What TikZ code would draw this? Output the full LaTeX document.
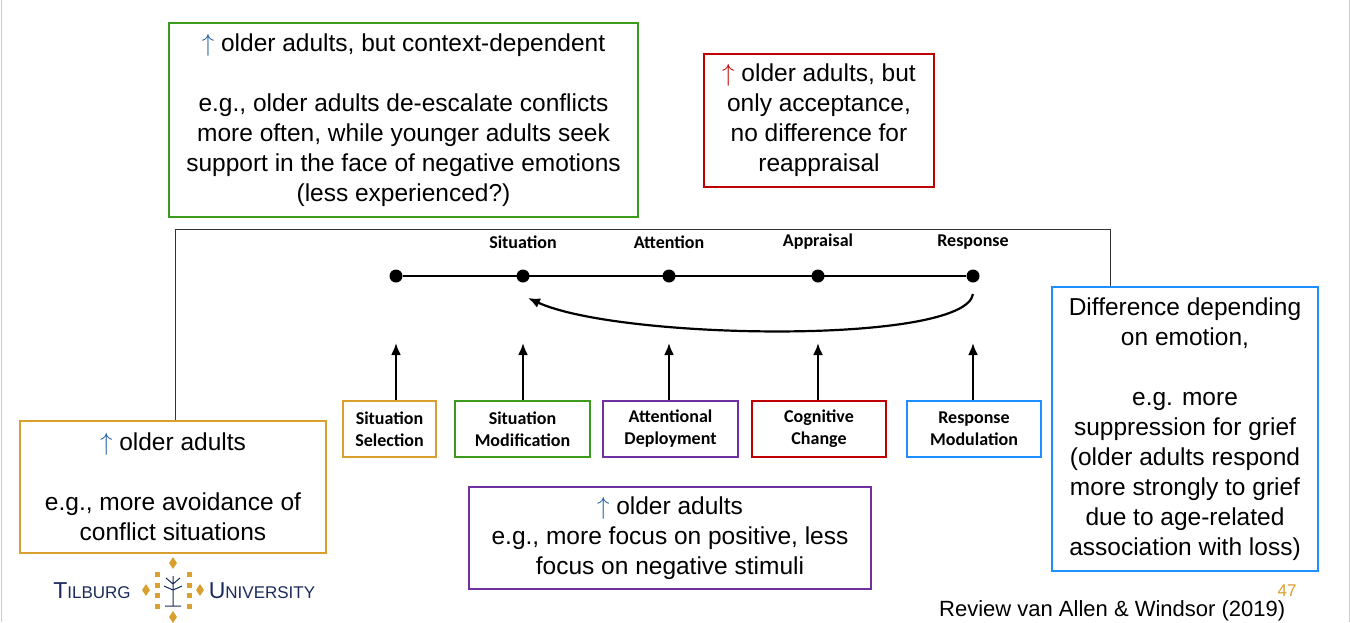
\documentclass[tikz,border=0pt]{standalone}
\usepackage{fontspec}
\setmainfont{Liberation Sans}
\newfontfamily\calib{Carlito}
\usetikzlibrary{positioning, shapes.geometric, arrows.meta}
\definecolor{okgreen}{HTML}{3C9A1E}
\definecolor{okred}{HTML}{C00000}
\definecolor{okpurple}{HTML}{7030A0}
\definecolor{okblue}{HTML}{1E8FFF}
\definecolor{okorange}{HTML}{D9A030}
\definecolor{arrowblue}{HTML}{1F5F9F}
\definecolor{tiunavy}{HTML}{1B2A5C}
\begin{document}
\begin{tikzpicture}[x=1pt,y=-1pt,
    note/.style={draw, line width=2.2pt, fill=white, align=center, inner sep=0pt, font=\fontsize{24.5}{30}\selectfont},
    stage/.style={draw, line width=2.2pt, fill=white, align=center, inner sep=0pt, font=\calib\bfseries\fontsize{18}{22}\selectfont},
    dot/.style={circle, fill=black, inner sep=0pt, minimum size=13pt},
    steplabel/.style={font=\calib\bfseries\fontsize{18}{18}\selectfont},
    uparrow/.style={-{Latex[length=12pt,width=10pt]}, line width=2.2pt}
]
    \useasboundingbox (0,0) rectangle (1350,622);
    \draw[black!20] (1,0) -- (1,622) (1349,0) -- (1349,622);

    % image frame
    \draw[black!80] (175,420) -- (175,229) -- (1110,229) -- (1110,287);

    % process line
    \foreach \name/\x in {sel/396, mod/523, att/669, app/818, res/973}
        \node[dot] (d\name) at (\x,276) {};
    \draw[line width=2.2pt] (dsel) -- (dres);
    \foreach \name/\txt in {mod/Situation, att/Attention, app/Appraisal, res/Response}
        \node[steplabel] at (d\name |- 0,242) {\txt};
    \coordinate (backstart) at (973,294);
    \coordinate (backend) at (528,298);
    \draw[uparrow] (backstart) .. controls (965,345) and (620,340) .. (backend);

    % strategy boxes
    \node[stage, draw=okorange, minimum width=93pt, minimum height=56pt] (bsel) at (389.5,429) {Situation\\Selection};
    \node[stage, draw=okgreen, minimum width=135pt, minimum height=56pt] (bmod) at (522.5,429) {Situation\\Modification};
    \node[stage, draw=okpurple, minimum width=135pt, minimum height=56pt] (batt) at (670.5,429) {Attentional\\Deployment};
    \node[stage, draw=okred, minimum width=134pt, minimum height=56pt] (bapp) at (819,429) {Cognitive\\Change};
    \node[stage, draw=okblue, minimum width=134pt, minimum height=56pt] (bres) at (974,429) {Response\\Modulation};
    \foreach \name in {sel, mod, att, app, res}
        \draw[uparrow] (b\name.north -| d\name) -- (d\name |- 0,343);

    % findings
    \node[note, draw=okgreen, minimum width=469pt, minimum height=194pt] (ngreen) at (403.5,120)
        {{\color{arrowblue}$\uparrow$} older adults, but context-dependent\\[30pt]e.g., older adults de-escalate conflicts\\more often, while younger adults seek\\support in the face of negative emotions\\(less experienced?)};
    \node[note, draw=okred, minimum width=230pt, minimum height=133pt] (nred) at (819,120.5)
        {{\color{okred}$\uparrow$} older adults, but\\only acceptance,\\no difference for\\reappraisal};
    \node[note, draw=okorange, minimum width=306pt, minimum height=132pt] (norange) at (173,487)
        {{\color{arrowblue}$\uparrow$} older adults\\[30pt]e.g., more avoidance of\\conflict situations};
    \node[note, draw=okpurple, minimum width=402pt, minimum height=102pt] (npurple) at (670,538)
        {{\color{arrowblue}$\uparrow$} older adults\\e.g., more focus on positive, less\\focus on negative stimuli};
    \node[note, draw=okblue, minimum width=266pt, minimum height=284pt] (nblue) at (1185,429)
        {Difference depending\\on emotion,\\[30pt]e.g. more\\suppression for grief\\(older adults respond\\more strongly to grief\\due to age-related\\association with loss)};

    % footer
    \node[font=\fontsize{17}{17}\selectfont, text=okorange] (page) at (1287,591) {47};
    \node[anchor=south west, inner sep=1pt, font=\fontsize{22}{22}\selectfont] (source) at (938,622) {Review van Allen \& Windsor (2019)};

    % logo
    \node[font=\fontsize{23}{23}\selectfont, text=tiunavy] (tilburg) at (92,591) {T\fontsize{17}{17}\selectfont ILBURG};
    \node[font=\fontsize{23}{23}\selectfont, text=tiunavy] (univ) at (262,591) {U\fontsize{17}{17}\selectfont NIVERSITY};
    \foreach \dx/\dy in {0/-27, 0/27, -27/0, 27/0}
        \node[diamond, fill=okorange, inner sep=0pt, minimum width=8pt, minimum height=12pt] at (173+\dx,590+\dy) {};
    \foreach \dx/\dy in {-16/-16, 16/-16, -16/16, 16/16, -16/-5, 16/-5, -16/5, 16/5}
        \fill[okorange] (173+\dx-2.5,590+\dy-2.5) rectangle ++(5,5);
    \draw[tiunavy, line width=1pt] (173,576) -- (173,606) (165,606) -- (181,606)
        (173,584) -- (166,578) (173,584) -- (180,578) (173,590) -- (164,586) (173,590) -- (182,586);
\end{tikzpicture}
\end{document}
